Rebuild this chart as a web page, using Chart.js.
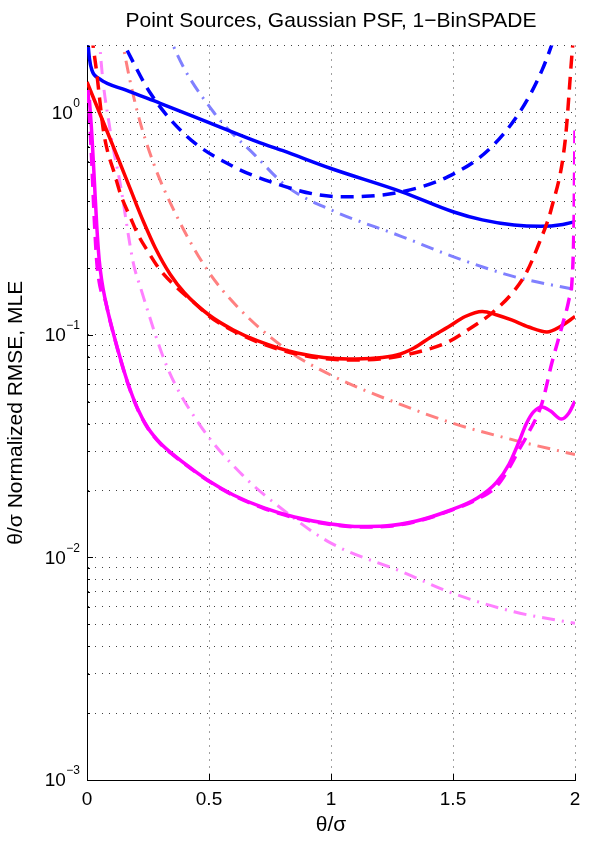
<!DOCTYPE html>
<html>
<head>
<meta charset="utf-8">
<script src="https://cdn.jsdelivr.net/npm/chart.js@4.4.0/dist/chart.umd.min.js"></script>
<style>
    html, body { margin: 0; padding: 0; background: #fff; }
    #wrap { width: 590px; height: 842px; }
</style>
</head>
<body>
<div id="wrap"><canvas id="myChart" width="590" height="842"></canvas></div>
<script>
// ticks
var xTicks = [0, 0.5, 1, 1.5, 2];
var xTickLabels = ['0', '0.5', '1', '1.5', '2'];
var yGrid = [0.001, 0.002, 0.003, 0.004, 0.005, 0.006, 0.007, 0.008, 0.009,
             0.01, 0.02, 0.03, 0.04, 0.05, 0.06, 0.07, 0.08, 0.09,
             0.1, 0.2, 0.3, 0.4, 0.5, 0.6, 0.7, 0.8, 0.9, 1, 2];
var yLabels = [0.001, 0.01, 0.1, 1];
var yExponents = ['\u22123', '\u22122', '\u22121', '0'];

// blue
var xBlueSolid = [0, 0.01, 0.02, 0.05, 0.16, 0.3, 0.5, 0.71, 0.8, 1.0, 1.29, 1.5, 1.62, 1.75, 1.86, 1.95, 2.0];
var yBlueSolid = [2.3, 1.75, 1.55, 1.42, 1.26, 1.1, 0.9, 0.73, 0.675, 0.56, 0.44, 0.358, 0.329, 0.312, 0.308, 0.314, 0.323];
var xBlueDash = [0.125, 0.156, 0.26, 0.41, 0.6, 0.77, 0.93, 1.05, 1.14, 1.29, 1.48, 1.645, 1.78, 1.865, 1.93];
var yBlueDash = [2.3, 1.98, 1.22, 0.78, 0.571, 0.481, 0.43, 0.418, 0.42, 0.44, 0.515, 0.678, 1.03, 1.55, 2.4];
var xBlueDot = [0.33, 0.355, 0.52, 0.69, 0.82, 1.0, 1.29, 1.5, 1.75, 2.0];
var yBlueDot = [2.4, 1.98, 1.0, 0.64, 0.464, 0.365, 0.277, 0.225, 0.183, 0.16];

// red
var xRedSolid = [0, 0.03, 0.06, 0.095, 0.13, 0.163, 0.2, 0.232, 0.28, 0.34, 0.4, 0.5, 0.6, 0.7, 0.86, 1.07,
                 1.27, 1.34, 1.41, 1.48, 1.55, 1.62, 1.68, 1.74, 1.81, 1.885, 1.94, 2.0];
var yRedSolid = [1.371, 1.138, 0.9447, 0.76, 0.6115, 0.497, 0.392, 0.322, 0.246, 0.188, 0.1545, 0.123, 0.1053, 0.094, 0.083, 0.078,
                 0.0813, 0.0874, 0.098, 0.1086, 0.1211, 0.1275, 0.123, 0.1168, 0.1086, 0.1032, 0.1092, 0.1211];
var xRedDash = [0.019, 0.03, 0.04, 0.05, 0.067, 0.085, 0.108, 0.14, 0.177, 0.21, 0.246, 0.3, 0.37, 0.45, 0.5, 0.6,
                0.7, 0.86, 1.07, 1.2, 1.34, 1.48, 1.56, 1.66, 1.75, 1.8, 1.85, 1.905, 1.96, 1.988, 2.0];
var yRedDash = [2.23, 1.813, 1.505, 1.198, 0.834, 0.6645, 0.5515, 0.4213, 0.3391, 0.2813, 0.241, 0.1959, 0.1627, 0.1364, 0.1217, 0.1042,
                0.093, 0.0821, 0.0772, 0.078, 0.083, 0.093, 0.1053, 0.1256, 0.1577, 0.19, 0.2538, 0.376, 0.752, 1.851, 2.6];
var xRedDot = [0.14, 0.149, 0.204, 0.273, 0.369, 0.493, 0.616, 0.82, 1.0, 1.29, 1.5, 1.75, 2.0];
var yRedDot = [2.3, 1.98, 1.03, 0.59, 0.34, 0.196, 0.134, 0.0857, 0.066, 0.0485, 0.0401, 0.0337, 0.029];

// magenta
var xMagSolid = [0.01, 0.02, 0.03, 0.04, 0.05, 0.06, 0.075, 0.09, 0.11, 0.136, 0.17, 0.21, 0.25, 0.3, 0.36, 0.43, 0.5, 0.6,
                 0.726, 0.85, 1.0, 1.12, 1.22, 1.35, 1.48, 1.6, 1.68, 1.73, 1.77, 1.8, 1.83, 1.865, 1.9, 1.945, 1.975, 2.0];
var yMagSolid = [1.138, 0.792, 0.497, 0.309, 0.2174, 0.1767, 0.1437, 0.1217, 0.1, 0.0788, 0.0596, 0.046, 0.0382, 0.0327, 0.0286, 0.025, 0.02207, 0.0191,
                 0.0167, 0.0152, 0.01415, 0.01378, 0.01385, 0.01459, 0.01618, 0.0185, 0.02185, 0.02632, 0.03304, 0.0398, 0.0451, 0.0475, 0.0455, 0.0419, 0.0446, 0.0505];
var xMagDash = [0.004, 0.012, 0.02, 0.03, 0.04, 0.05, 0.06, 0.075, 0.09, 0.11, 0.136, 0.17, 0.21, 0.25, 0.3, 0.36, 0.43, 0.5, 0.6,
                0.726, 0.85, 1.0, 1.12, 1.22, 1.35, 1.48, 1.6, 1.68, 1.73, 1.77, 1.8, 1.865, 1.905, 1.946, 1.975, 1.988, 1.996, 2.0];
var yMagDash = [1.262, 0.879, 0.581, 0.329, 0.213, 0.173, 0.1545, 0.143, 0.121, 0.0995, 0.0784, 0.0593, 0.0458, 0.038, 0.0325, 0.0285, 0.0249, 0.022, 0.019,
                0.0166, 0.0151, 0.01408, 0.01371, 0.01378, 0.01452, 0.0161, 0.0183, 0.02096, 0.02525, 0.0304, 0.0348, 0.0495, 0.0748, 0.1086, 0.1437, 0.1767, 0.329, 0.834];
var xMagDot = [0.05, 0.053, 0.095, 0.136, 0.19, 0.218, 0.328, 0.458, 0.63, 0.822, 1.0, 1.29, 1.5, 1.75, 2.0];
var yMagDot = [2.3, 1.98, 0.83, 0.48, 0.21, 0.165, 0.072, 0.0401, 0.0239, 0.0158, 0.0116, 0.00863, 0.0069, 0.0057, 0.00506];

var fontFamily = "'Liberation Sans', Arial, Helvetica, sans-serif";

function pts(xs, ys) {
    var out = [];
    for (var i = 0; i < xs.length; i++) {
        out.push({x: xs[i], y: ys[i]});
    }
    return out;
}

function line(xs, ys, color, width, dash) {
    return {
        data: pts(xs, ys),
        borderColor: color,
        borderWidth: width,
        borderDash: dash,
        showLine: true,
        fill: false,
        pointRadius: 0,
        cubicInterpolationMode: 'monotone'
    };
}

var dashed = [13, 8];
var dashDot = [13, 7, 2, 7];

// y labels with superscript exponent, inward tick marks
var axisExtras = {
    id: 'axisExtras',
    afterDraw: function (chart) {
        var ctx = chart.ctx;
        var xs = chart.scales.x, ys = chart.scales.y;
        var area = chart.chartArea;
        ctx.save();
        ctx.strokeStyle = '#000';
        ctx.lineWidth = 1;
        ctx.beginPath();
        yGrid.forEach(function (v) {
            var py = Math.round(ys.getPixelForValue(v)) + 0.5;
            var len = yLabels.indexOf(v) >= 0 ? 6 : 3;
            ctx.moveTo(area.left, py);
            ctx.lineTo(area.left + len, py);
        });
        xTicks.forEach(function (v) {
            var px = Math.round(xs.getPixelForValue(v)) + 0.5;
            ctx.moveTo(px, area.bottom);
            ctx.lineTo(px, area.bottom - 6);
        });
        ctx.stroke();

        ctx.fillStyle = '#000';
        ctx.textBaseline = 'middle';
        yLabels.forEach(function (v, i) {
            var py = ys.getPixelForValue(v);
            ctx.font = '12px ' + fontFamily;
            var ew = ctx.measureText(yExponents[i]).width;
            ctx.textAlign = 'left';
            ctx.fillText(yExponents[i], 80 - ew, py - 9);
            ctx.font = '19px ' + fontFamily;
            ctx.textAlign = 'right';
            ctx.fillText('10', 80 - ew - 0.5, py + 1);
        });
        ctx.restore();
    }
};

Chart.defaults.font.family = fontFamily;
Chart.defaults.color = '#000';

var ctx = document.getElementById('myChart').getContext('2d');
var myChart = new Chart(ctx, {
    type: 'scatter',
    data: {
        datasets: [
            line(xMagDash, yMagDash, '#ff00ff', 3.5, dashed),
            line(xRedDash, yRedDash, '#ff0000', 3.5, dashed),
            line(xBlueDash, yBlueDash, '#0000ff', 3.5, dashed),
            line(xMagSolid, yMagSolid, '#ff00ff', 3.5, []),
            line(xRedSolid, yRedSolid, '#ff0000', 3.5, []),
            line(xBlueSolid, yBlueSolid, '#0000ff', 3.5, []),
            line(xMagDot, yMagDot, '#ff80ff', 3, dashDot),
            line(xRedDot, yRedDot, '#ff8080', 3, dashDot),
            line(xBlueDot, yBlueDot, '#8080ff', 3, dashDot)
        ]
    },
    options: {
        responsive: false,
        animation: false,
        devicePixelRatio: 1,
        layout: { padding: { left: 0, right: 15, top: 0, bottom: 0 } },
        plugins: {
            legend: { display: false },
            tooltip: { enabled: false },
            title: {
                display: true,
                fullSize: false,
                text: 'Point Sources, Gaussian PSF, 1\u2212BinSPADE',
                font: { size: 21, weight: 'normal' },
                color: '#000',
                padding: { top: 9, bottom: 11.3 }
            }
        },
        scales: {
            x: {
                type: 'linear',
                min: 0,
                max: 2,
                afterFit: function (scale) { scale.height = 62; },
                afterBuildTicks: function (scale) {
                    scale.ticks = xTicks.map(function (v) { return {value: v}; });
                },
                ticks: {
                    padding: 8,
                    font: { size: 19 },
                    color: '#000',
                    maxRotation: 0,
                    callback: function (value) {
                        var i = xTicks.indexOf(value);
                        return i >= 0 ? xTickLabels[i] : '';
                    }
                },
                grid: { color: 'rgba(0,0,0,0.75)', lineWidth: 1, drawTicks: false },
                border: { display: true, color: '#000', width: 1, dash: [1, 6] },
                title: {
                    display: true,
                    text: '\u03b8/\u03c3',
                    font: { size: 21 },
                    color: '#000',
                    padding: { top: 0, bottom: 4.5 }
                }
            },
            y: {
                type: 'logarithmic',
                min: 0.001,
                max: 2,
                afterFit: function (scale) { scale.width = 87; },
                afterBuildTicks: function (scale) {
                    scale.ticks = yGrid.map(function (v) { return {value: v}; });
                },
                ticks: { display: false },
                grid: { color: 'rgba(0,0,0,0.75)', lineWidth: 1, drawTicks: false },
                border: { display: true, color: '#000', width: 1, dash: [1, 6] },
                title: {
                    display: true,
                    text: '\u03b8/\u03c3 Normalized RMSE, MLE',
                    font: { size: 21 },
                    color: '#000',
                    padding: { top: 3.5, bottom: 0 }
                }
            }
        }
    },
    plugins: [axisExtras]
});
</script>
</body>
</html>
